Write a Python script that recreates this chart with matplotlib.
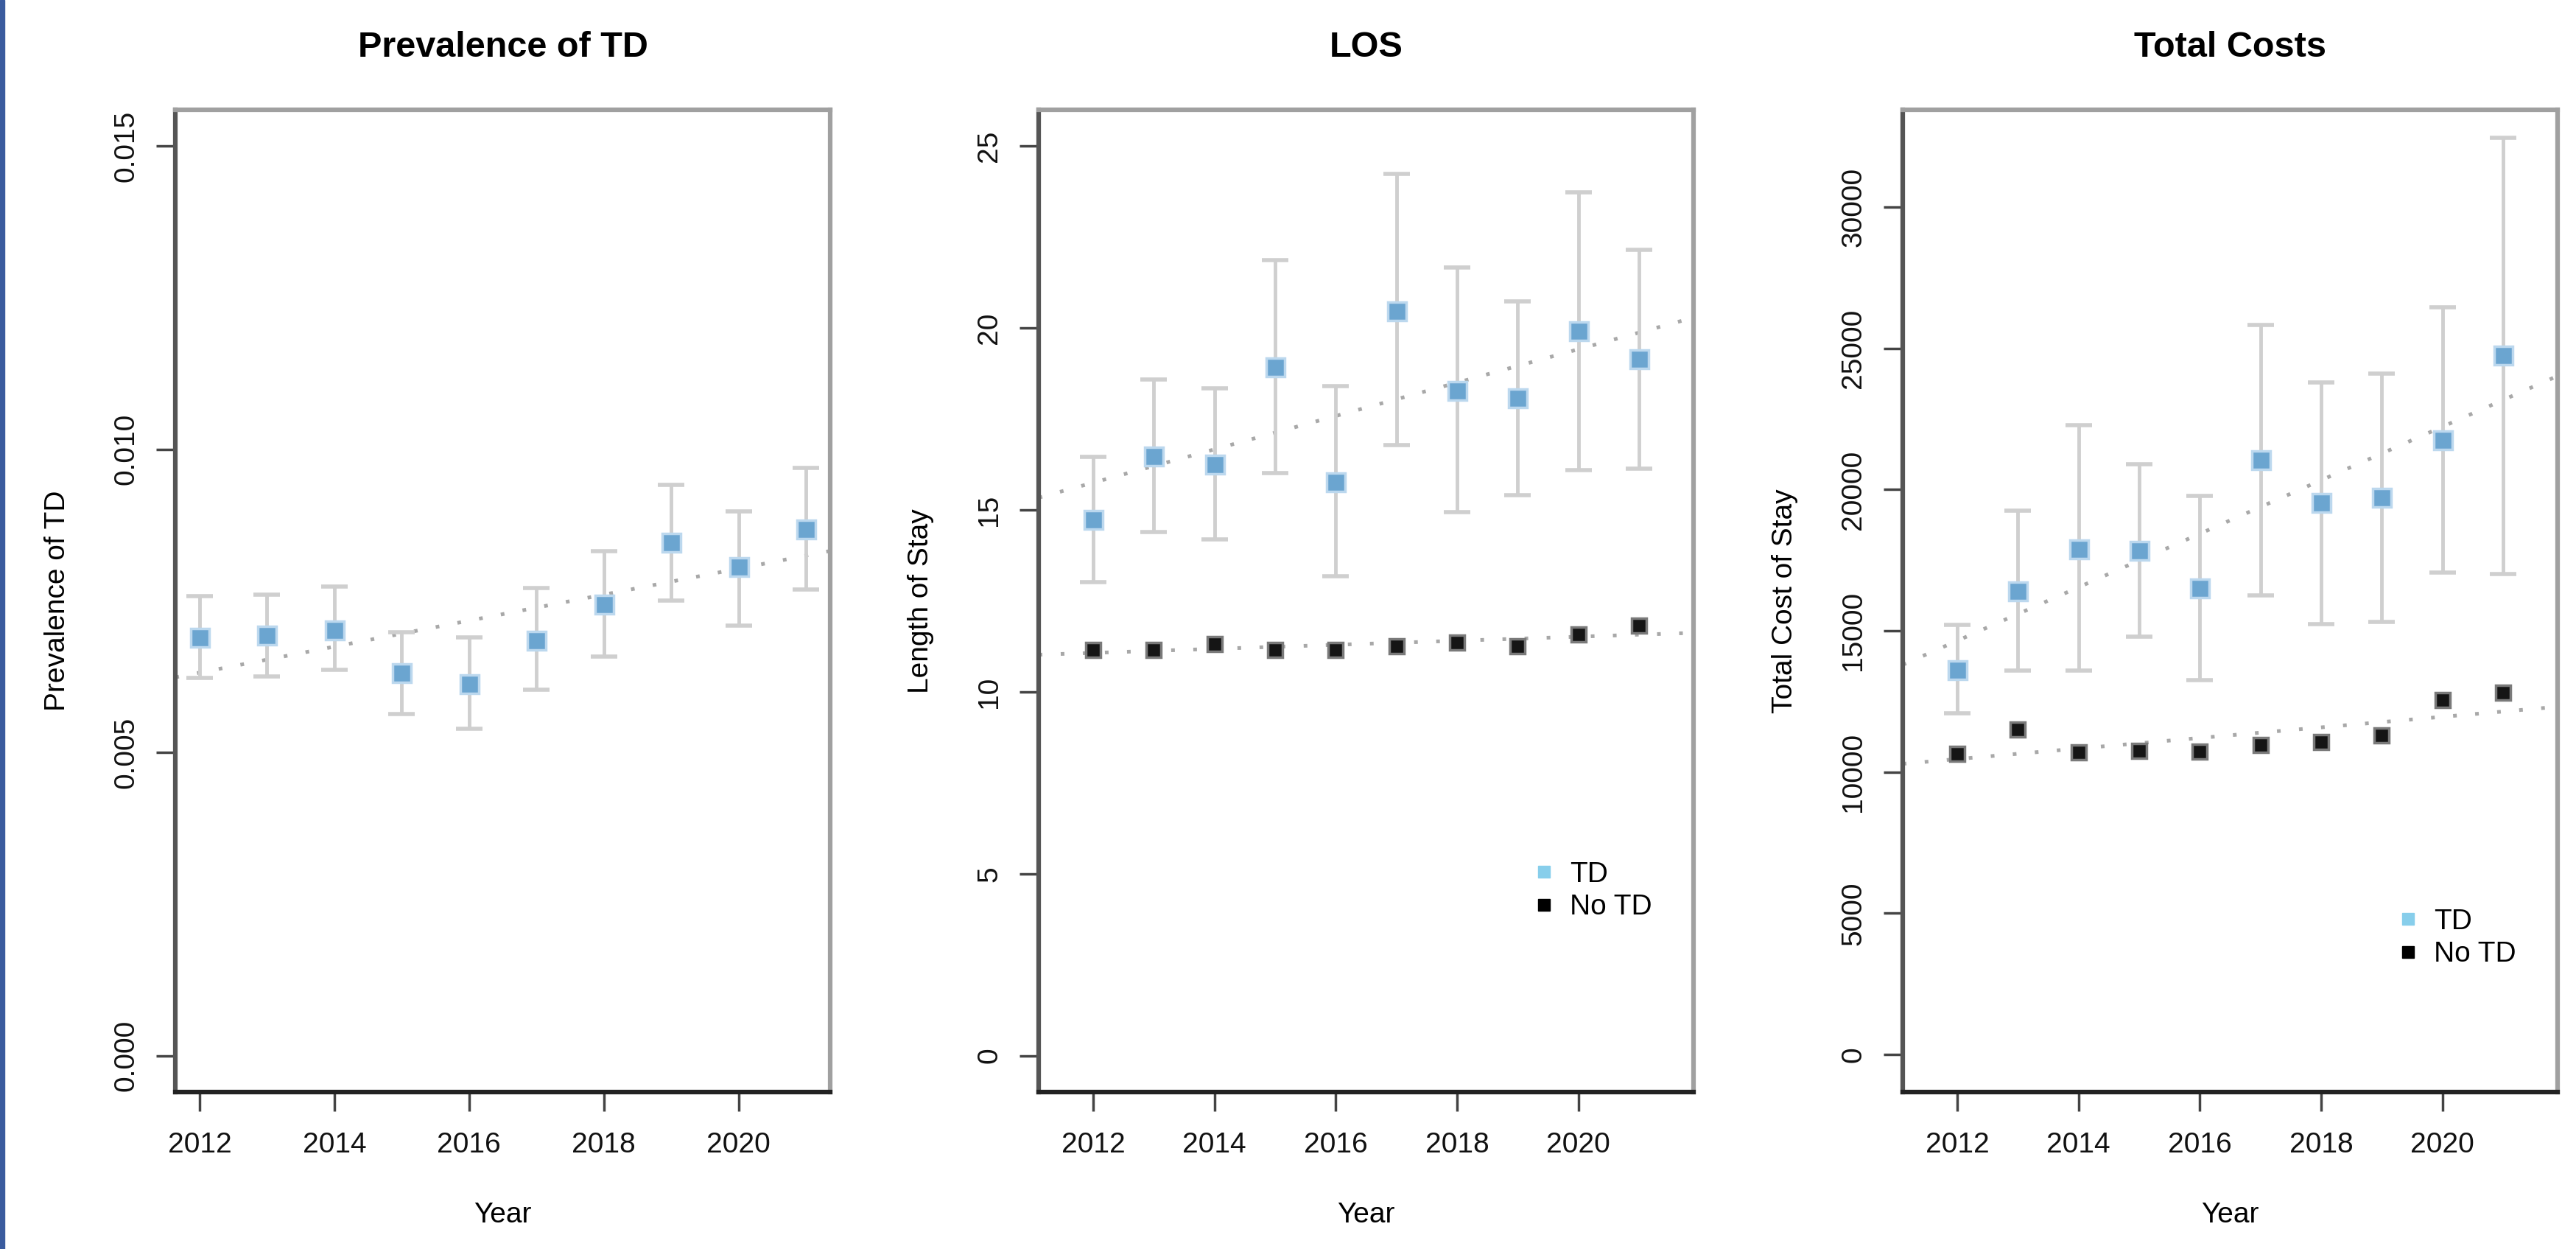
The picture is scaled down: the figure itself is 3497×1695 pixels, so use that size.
import matplotlib
matplotlib.use('Agg')
import matplotlib.pyplot as plt
from matplotlib.lines import Line2D
from matplotlib.patches import Rectangle
import numpy as np

plt.rcParams['font.family'] = ['Liberation Sans', 'DejaVu Sans']

years = np.arange(2012, 2022)

# prevalence of TD (point estimate and 95% CI)
prev = [0.00690, 0.00693, 0.00702, 0.00632, 0.00613, 0.00685, 0.00745, 0.00847, 0.00806, 0.00869]
prev_lo = [0.00623, 0.00625, 0.00636, 0.00564, 0.00539, 0.00603, 0.00658, 0.00751, 0.00709, 0.00769]
prev_hi = [0.00758, 0.00760, 0.00774, 0.00698, 0.00690, 0.00771, 0.00832, 0.00942, 0.00898, 0.00969]

# length of stay
los_td = [14.74, 16.49, 16.26, 18.94, 15.78, 20.47, 18.29, 18.08, 19.92, 19.16]
los_td_lo = [13.02, 14.39, 14.19, 16.01, 13.17, 16.78, 14.94, 15.41, 16.10, 16.14]
los_td_hi = [16.46, 18.58, 18.35, 21.86, 18.40, 24.24, 21.67, 20.74, 23.73, 22.16]
los_no = [11.16, 11.16, 11.32, 11.16, 11.16, 11.26, 11.35, 11.26, 11.57, 11.82]

# total costs
cost_td = [13630, 16400, 17910, 17840, 16510, 21060, 19550, 19720, 21750, 24750]
cost_td_lo = [12090, 13590, 13590, 14790, 13250, 16250, 15230, 15310, 17070, 17010]
cost_td_hi = [15210, 19260, 22290, 20890, 19790, 25840, 23790, 24100, 26460, 32460]
cost_no = [10640, 11520, 10700, 10760, 10720, 10960, 11070, 11290, 12550, 12810]

BLUE = '#6ba5d0'
W, H = 3498, 1695
fig = plt.figure(figsize=(W / 100, H / 100), dpi=100)
fig.patches.append(Rectangle((0, 0), 6 / W, 1, transform=fig.transFigure,
                             color='#3a5b9e', zorder=10))


def panel(left, title, ylabel, xlim, ylim, yticks, yticklabels):
    ax = fig.add_axes([left / W, 1 - 1482 / H, 889 / W, 1333 / H])
    ax.set_xlim(*xlim)
    ax.set_ylim(*ylim)
    ax.set_xticks([2012, 2014, 2016, 2018, 2020])
    ax.set_yticks(yticks)
    ax.set_yticklabels(yticklabels, rotation=90, va='center')
    ax.tick_params(length=19, width=2.5, color='#444444', labelsize=28,
                   labelcolor='#111111')
    ax.tick_params(axis='x', pad=20)
    ax.tick_params(axis='y', pad=16)
    for s in ['top', 'right']:
        ax.spines[s].set_color('#a0a0a0')
    ax.spines['left'].set_color('#555555')
    ax.spines['bottom'].set_color('#222222')
    for s in ax.spines.values():
        s.set_linewidth(4.5)
    ax.text(0.5, 1 + 84 / 1333, title, transform=ax.transAxes, ha='center',
            va='center', fontsize=35, fontweight='bold')
    ax.set_xlabel('Year', fontsize=28)
    ax.xaxis.set_label_coords(0.5, -0.112)
    ax.set_ylabel(ylabel, fontsize=28)
    ax.yaxis.set_label_coords(-0.16, 0.5)
    return ax


def errbars(ax, y, lo, hi):
    y = np.array(y)
    yerr = [y - np.array(lo), np.array(hi) - y]
    ax.errorbar(years, y, yerr=yerr, fmt='none', ecolor='#cfcfcf',
                elinewidth=3.5, capsize=13, capthick=4, zorder=2)
    for c in ax.containers[-1:]:
        for cap in c.lines[1]:
            cap.set_color('#e0e0e0')


def trend(ax, y, color='#a8a8a8'):
    k, b = np.polyfit(years, y, 1)
    xl = np.array(ax.get_xlim())
    ax.plot(xl, k * xl + b, linestyle=(0, (1, 5)), color=color, lw=3.6,
            zorder=1)


def points(ax, y, color, edge, ms):
    ax.plot(years, y, 's', color=color, markeredgecolor=edge,
            markeredgewidth=2.5, ms=ms, zorder=3)


def legend(ax, yanchor):
    h = [Line2D([], [], ls='none', marker='s', color='#87ceeb', ms=11),
         Line2D([], [], ls='none', marker='s', color='black', ms=11)]
    ax.legend(h, ['TD', 'No TD'], loc='upper left',
              bbox_to_anchor=(0.754, yanchor), frameon=False, fontsize=28,
              borderpad=0, borderaxespad=0, handlelength=0.8,
              handletextpad=0.5, labelspacing=0.22)


# panel 1: prevalence
ax1 = panel(238, 'Prevalence of TD', 'Prevalence of TD', (2011.64, 2021.36),
            (-0.0006, 0.0156), [0, 0.005, 0.010, 0.015],
            ['0.000', '0.005', '0.010', '0.015'])
trend(ax1, prev)
errbars(ax1, prev, prev_lo, prev_hi)
points(ax1, prev, BLUE, '#bcd8ee', 18)

# panel 2: length of stay
ax2 = panel(1410, 'LOS', 'Length of Stay', (2011.1, 2021.9), (-1, 26),
            [0, 5, 10, 15, 20, 25], ['0', '5', '10', '15', '20', '25'])
trend(ax2, los_td)
trend(ax2, los_no)
errbars(ax2, los_td, los_td_lo, los_td_hi)
points(ax2, los_td, BLUE, '#bcd8ee', 18)
points(ax2, los_no, '#151515', '#7a7a7a', 15)
legend(ax2, 0.235)

# panel 3: total costs
ax3 = panel(2583, 'Total Costs', 'Total Cost of Stay', (2011.1, 2021.9),
            (-1330, 33450), [0, 5000, 10000, 15000, 20000, 25000, 30000],
            ['0', '5000', '10000', '15000', '20000', '25000', '30000'])
trend(ax3, cost_td)
trend(ax3, cost_no)
errbars(ax3, cost_td, cost_td_lo, cost_td_hi)
points(ax3, cost_td, BLUE, '#bcd8ee', 18)
points(ax3, cost_no, '#151515', '#7a7a7a', 15)
legend(ax3, 0.187)

fig.savefig('out.png', dpi=100)
